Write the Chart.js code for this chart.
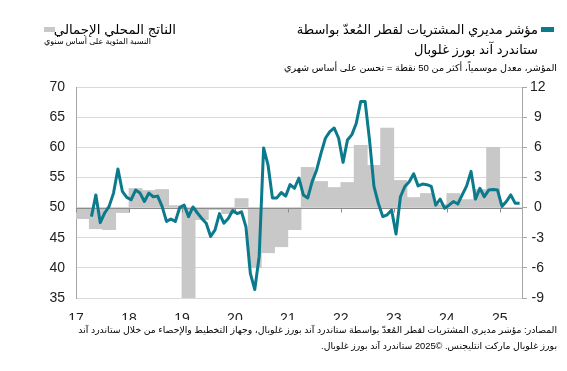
<!DOCTYPE html>
<html lang="ar">
<head>
<meta charset="utf-8">
<script src="https://cdn.jsdelivr.net/npm/chart.js@4.4.1/dist/chart.umd.min.js"></script>
<style>
  body { margin: 0; background: #fff; }
  #wrap { position: relative; width: 567px; height: 371px; overflow: hidden;
          font-family: "Liberation Sans", "DejaVu Sans", sans-serif; color: #000; }
  #wrap canvas { position: absolute; left: 0; top: 0; }
  .t { position: absolute; direction: rtl; text-align: right; white-space: nowrap; }
  .sq { position: absolute; height: 5px; }
</style>
</head>
<body>
<div id="wrap">
  <canvas id="chart" width="567" height="371"></canvas>

  <div class="sq" style="left:44px;top:27px;width:11px;background:#c8c8c8"></div>
  <div class="t" style="right:391px;top:20px;font-size:13.4px;line-height:19px">الناتج المحلي الإجمالي</div>
  <div class="t" style="right:416px;top:36px;font-size:8px;line-height:12px">النسبة المئوية على أساس سنوي</div>

  <div class="sq" style="left:541px;top:27px;width:13px;background:#0a7a8c"></div>
  <div class="t" style="right:29px;top:20px;font-size:13px;line-height:20px">مؤشر مديري المشتريات لقطر المُعدّ بواسطة<br>ستاندرد آند بورز غلوبال</div>
  <div class="t" style="right:10px;top:61px;font-size:9.6px;line-height:13px">المؤشر، معدل موسمياً، أكثر من 50 نقطة = تحسن على أساس شهري</div>

  <div class="t" style="right:10px;top:322px;font-size:9.3px;line-height:16px">المصادر: مؤشر مديري المشتريات لقطر المُعدّ بواسطة ستاندرد آند بورز غلوبال، وجهاز التخطيط والإحصاء من خلال ستاندرد آند<br>بورز غلوبال ماركت انتليجنس. ©2025 ستاندرد آند بورز غلوبال.</div>
</div>

<script>
// ---------- Data ----------

// monthly PMI, first value = April 2017
const pmiStartYear = 2017;
const pmiStartMonth = 3; // 0-based, April
const pmiValues = [
    48.5, 52.1, 47.5, 49.1, 50.2, 52.4, 56.4, 52.7, 51.7,
    51.3, 52.9, 52.4, 51.0, 52.4, 51.8, 51.9, 50.2, 47.7, 48.1, 47.7, 50.0,
    50.4, 48.5, 50.1, 49.1, 48.2, 47.4, 45.2, 46.3, 49.0, 47.4, 48.2, 49.5,
    49.0, 49.3, 46.8, 39.1, 36.4, 41.9, 59.9, 57.1, 51.6, 51.6, 52.5, 51.9,
    53.8, 53.2, 54.9, 52.1, 51.6, 54.3, 56.2, 59.0, 61.5, 62.6, 63.2, 61.5,
    57.5, 61.2, 62.1, 64.0, 67.6, 67.6, 61.2, 53.5, 50.7, 48.5, 48.8, 49.6,
    45.6, 51.8, 53.5, 54.3, 55.6, 53.6, 53.9, 53.8, 53.5, 50.4, 51.4, 49.9,
    50.4, 51.0, 50.6, 52.1, 53.6, 56.0, 51.4, 53.2, 51.8, 52.9, 53.0, 52.9,
    50.2, 51.0, 52.1, 50.7, 50.7
];

// quarterly GDP, % y/y, first value = Q1 2017
const gdpStartYear = 2017;
const gdpValues = [
    -1.1, -2.1, -2.2, -0.5,
    1.9, 1.7, 1.8, 0.2,
    -9.1, -1.2, -0.2, -0.6,
    0.9, -6.0, -4.5, -3.9,
    -2.2, 4.0, 2.6, 2.0,
    2.5, 6.2, 4.2, 7.9,
    2.7, 1.0, 1.4, 0.3,
    1.4, 0.8, 1.8, 6.0
];

const xMin = 2017;
const xMax = 2025.42;
const pmiTicks = { min: 35, max: 70, step: 5 };
const gdpTicks = { min: -9, max: 12, step: 3 };

// ---------- Build points ----------

const pmiPoints = pmiValues.map((v, i) => ({
    x: pmiStartYear + (pmiStartMonth + i + 0.5) / 12,
    y: v
}));

const gdpPoints = gdpValues.map((v, i) => ({
    x: gdpStartYear + (i + 0.5) / 4,
    y: v
}));

const tealColor = "#0a7a8c";
const barColor = "#c8c8c8";
const axisColor = "#a6a6a6";
const gridColor = "#d9d9d9";
const tickFont = { family: "Liberation Sans", size: 14 };

// zero line of the GDP axis with small year ticks, drawn over bars, under the line
const zeroLine = {
    id: "zeroLine",
    afterDatasetDraw(chart, args) {
        if (args.index !== 1) return;
        const { ctx, chartArea, scales } = chart;
        const y0 = Math.round(scales.y2.getPixelForValue(0)) + 0.5;
        ctx.save();
        ctx.strokeStyle = "#8c8c8c";
        ctx.lineWidth = 1;
        ctx.beginPath();
        ctx.moveTo(chartArea.left, y0);
        ctx.lineTo(chartArea.right, y0);
        scales.x.ticks.forEach(t => {
            const x = Math.round(scales.x.getPixelForValue(t.value)) + 0.5;
            ctx.moveTo(x, y0);
            ctx.lineTo(x, y0 + 4);
        });
        ctx.stroke();
        ctx.restore();
    }
};

new Chart(document.getElementById("chart"), {
    data: {
        datasets: [{
            type: "line",
            label: "PMI",
            data: pmiPoints,
            yAxisID: "y",
            borderColor: tealColor,
            borderWidth: 3,
            pointRadius: 0,
            tension: 0,
            borderJoinStyle: "round",
            order: 0
        }, {
            type: "bar",
            label: "GDP",
            data: gdpPoints,
            yAxisID: "y2",
            backgroundColor: barColor,
            borderWidth: 0,
            barPercentage: 1,
            categoryPercentage: 1,
            order: 1
        }]
    },
    options: {
        responsive: false,
        animation: false,
        layout: { padding: { top: 87, bottom: 51, left: 0, right: 0 } },
        plugins: {
            legend: { display: false },
            tooltip: { enabled: false }
        },
        scales: {
            x: {
                type: "linear",
                min: xMin,
                max: xMax,
                offset: false,
                grid: { display: false, offset: false },
                border: { display: false },
                ticks: {
                    stepSize: 1,
                    includeBounds: false,
                    maxRotation: 0,
                    autoSkip: false,
                    padding: 5,
                    color: "#222",
                    font: tickFont,
                    callback: v => Number.isInteger(v) ? String(v - 2000) : ""
                },
                afterFit: s => { s.height = 22; }
            },
            y: {
                position: "left",
                min: pmiTicks.min,
                max: pmiTicks.max,
                grid: { color: gridColor, drawTicks: false },
                border: { color: axisColor },
                ticks: {
                    stepSize: pmiTicks.step,
                    padding: 11,
                    color: "#222",
                    font: tickFont
                },
                afterFit: s => { s.width = 76; }
            },
            y2: {
                position: "right",
                min: gdpTicks.min,
                max: gdpTicks.max,
                grid: { drawOnChartArea: false, drawTicks: true, tickLength: 5, color: axisColor },
                border: { color: axisColor },
                ticks: {
                    stepSize: gdpTicks.step,
                    padding: 3,
                    crossAlign: "center",
                    color: "#222",
                    font: tickFont
                },
                afterFit: s => { s.width = 45; }
            }
        }
    },
    plugins: [zeroLine]
});
</script>
</body>
</html>
